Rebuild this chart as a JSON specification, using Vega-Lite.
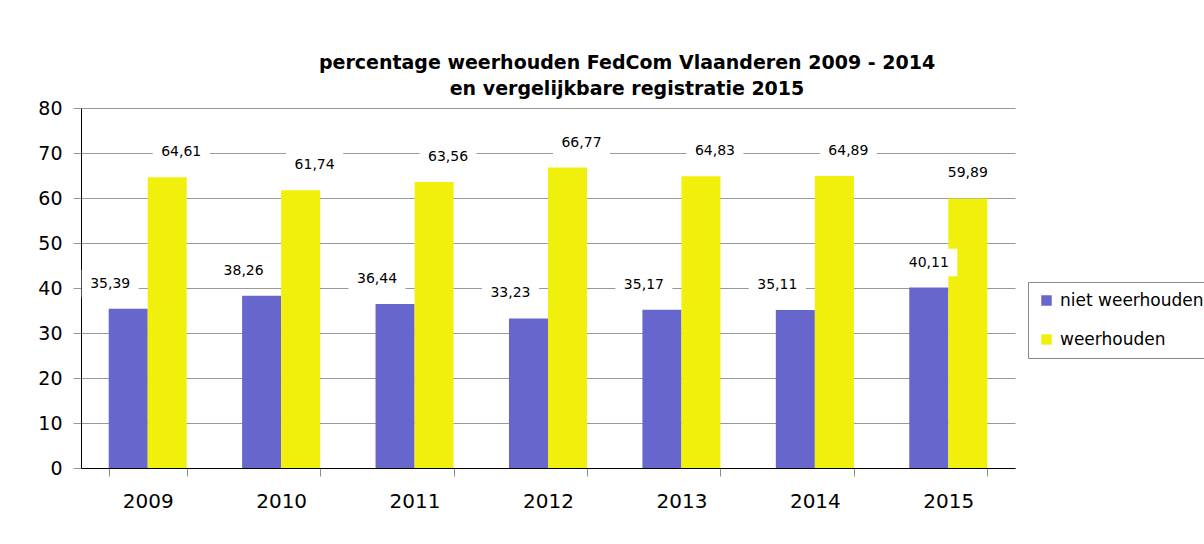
{
  "$schema": "https://vega.github.io/schema/vega-lite/v6.json",
  "width": 934,
  "height": 360,
  "autosize": "none",
  "padding": {"left": 81, "top": 108, "right": 189, "bottom": 76},
  "background": "white",
  "title": {
    "text": ["percentage weerhouden FedCom Vlaanderen 2009 - 2014", "en vergelijkbare registratie 2015"],
    "font": "DejaVu Sans",
    "fontSize": 19,
    "fontWeight": "bold",
    "color": "black",
    "lineHeight": 26,
    "anchor": "middle",
    "dx": 79,
    "offset": 0
  },
  "data": {
    "values": [
      {"year": "2009", "group": "niet weerhouden", "value": 35.39, "label": "35,39"},
      {"year": "2009", "group": "weerhouden", "value": 64.61, "label": "64,61"},
      {"year": "2010", "group": "niet weerhouden", "value": 38.26, "label": "38,26"},
      {"year": "2010", "group": "weerhouden", "value": 61.74, "label": "61,74"},
      {"year": "2011", "group": "niet weerhouden", "value": 36.44, "label": "36,44"},
      {"year": "2011", "group": "weerhouden", "value": 63.56, "label": "63,56"},
      {"year": "2012", "group": "niet weerhouden", "value": 33.23, "label": "33,23"},
      {"year": "2012", "group": "weerhouden", "value": 66.77, "label": "66,77"},
      {"year": "2013", "group": "niet weerhouden", "value": 35.17, "label": "35,17"},
      {"year": "2013", "group": "weerhouden", "value": 64.83, "label": "64,83"},
      {"year": "2014", "group": "niet weerhouden", "value": 35.11, "label": "35,11"},
      {"year": "2014", "group": "weerhouden", "value": 64.89, "label": "64,89"},
      {"year": "2015", "group": "niet weerhouden", "value": 40.11, "label": "40,11"},
      {"year": "2015", "group": "weerhouden", "value": 59.89, "label": "59,89"}
    ]
  },
  "encoding": {
    "x": {
      "field": "year",
      "type": "nominal",
      "scale": {"paddingInner": 0.415, "paddingOuter": 0.2075},
      "axis": {
        "title": null,
        "labelAngle": 0,
        "labelFont": "DejaVu Sans",
        "labelFontSize": 20,
        "labelColor": "black",
        "labelPadding": 15,
        "domainColor": "black",
        "domainWidth": 1,
        "tickColor": "#8c8c8c",
        "tickSize": 8,
        "tickBand": "extent",
        "grid": false
      }
    },
    "xOffset": {"field": "group", "type": "nominal", "sort": ["niet weerhouden", "weerhouden"]},
    "y": {
      "field": "value",
      "type": "quantitative",
      "scale": {"domain": [0, 80], "nice": false},
      "axis": {
        "title": null,
        "values": [0, 10, 20, 30, 40, 50, 60, 70, 80],
        "labelFont": "DejaVu Sans",
        "labelFontSize": 19,
        "labelColor": "black",
        "labelPadding": 11,
        "domainColor": "black",
        "domainWidth": 1,
        "tickColor": "#999999",
        "tickSize": 8,
        "grid": true,
        "gridColor": "#999999",
        "gridWidth": 1
      }
    }
  },
  "layer": [
    {
      "mark": {"type": "bar"},
      "encoding": {
        "color": {
          "field": "group",
          "type": "nominal",
          "scale": {"domain": ["niet weerhouden", "weerhouden"], "range": ["#6666CC", "#F0F00C"]},
          "legend": {
            "title": null,
            "orient": "none",
            "legendX": 947,
            "legendY": 174,
            "direction": "vertical",
            "symbolType": "square",
            "symbolSize": 110,
            "symbolStrokeWidth": 0,
            "labelFont": "DejaVu Sans",
            "labelFontSize": 17,
            "labelColor": "black",
            "labelOffset": 5,
            "rowPadding": 21,
            "padding": 10,
            "strokeColor": "#888888",
            "fillColor": "white"
          }
        }
      }
    },
    {
      "mark": {
        "type": "point",
        "filled": true,
        "fill": "white",
        "opacity": 1,
        "strokeWidth": 0,
        "size": 3249,
        "yOffset": -25
      },
      "encoding": {
        "shape": {
          "condition": [
            {"test": "datum.year == '2015'", "value": "M-1,-0.48H1V0.48H-1Z"},
            {"test": "datum.group == 'weerhouden'", "value": "M-0.509,-0.48H1.491V0.48H-0.509Z"}
          ],
          "value": "M-1.632,-0.48H0.368V0.48H-1.632Z"
        }
      }
    },
    {
      "mark": {
        "type": "text",
        "font": "DejaVu Sans",
        "fontSize": 14,
        "color": "black",
        "baseline": "middle",
        "align": "center",
        "yOffset": -25,
        "dx": {"expr": "datum.year == '2015' ? 0 : (datum.group == 'weerhouden' ? 14 : -18)"}
      },
      "encoding": {"text": {"field": "label"}}
    }
  ],
  "config": {"view": {"stroke": null}}
}
